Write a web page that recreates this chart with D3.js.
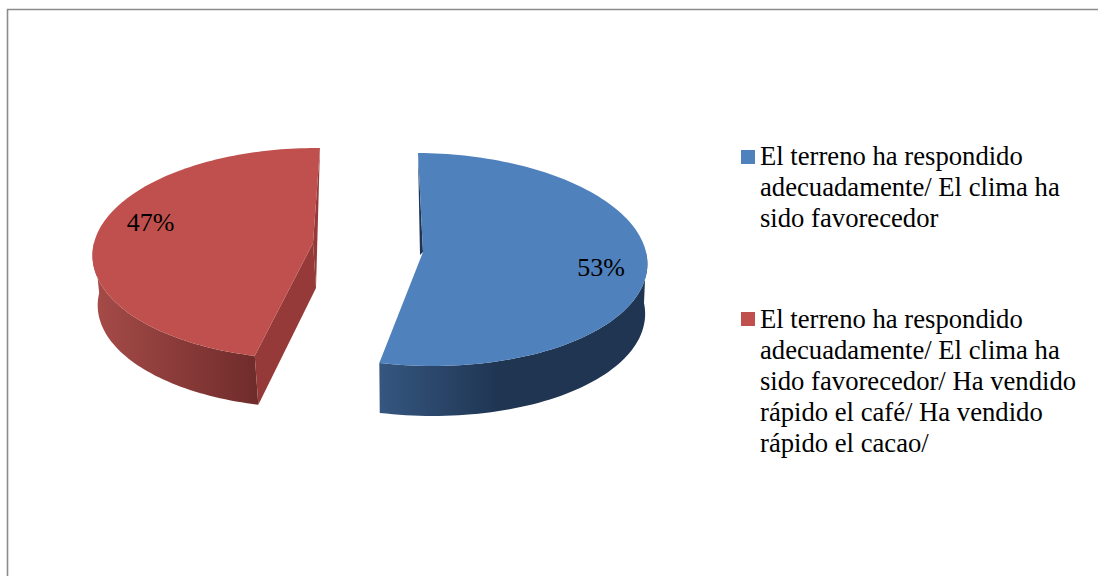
<!DOCTYPE html>
<html><head><meta charset="utf-8">
<script src="https://d3js.org/d3.v7.min.js"></script>
<style>html,body{margin:0;padding:0;background:#fff}svg{display:block}text{font-family:"Liberation Serif",serif;fill:#000}</style>
</head><body><svg id="c" width="1098" height="576"></svg>
<script>
const categories = [
  ["El terreno ha respondido","adecuadamente/ El clima ha","sido favorecedor"],
  ["El terreno ha respondido","adecuadamente/ El clima ha","sido favorecedor/ Ha vendido","rápido el café/ Ha vendido","rápido el cacao/"]
];
const values = [53.3, 46.7];
const colors = ["#4f81bd", "#c0504d"];
const rotation = 1 * Math.PI / 180;

// Perspective of each exploded slice
const views = [
  {ax:423, ay:252, rx:223, ry:106, p:.07, k:.0414, depth:50, sx:.99, sy:1, dx:0,
   cut:null, sliverColor:"#1f3552", wall:["#35567f","#1f3552"], wallX:[380,500], sliver:[420,255]},
  {ax:313, ay:243, rx:219, ry:104.5, p:.1, k:-.0176, depth:50, sx:.99, sy:.99, dx:3,
   cut:"#953a38", sliverColor:"#953a38", wall:["#a54b48","#6f2c2b"], wallX:[95,257], sliver:[316,288]}
];
const labelPos = [[601,276],[150.5,231]];
const legendBase = [165, 327.5], swatchTop = [150, 312];
const fontSize = 26.67, labelSize = 26;

const svg = d3.select("#c");
const defs = svg.append("defs");

// Frame
svg.append("path").attr("d","M7.5,576V9.5H1098").attr("fill","none").attr("stroke","#8c8c8c").attr("stroke-width",1.6);

const arcs = d3.pie().sort(null).startAngle(rotation).endAngle(rotation + 2*Math.PI)(values);
const line = d3.line();
const project = (v,a,bottom) => {
  const ux = Math.sin(a), uy = -Math.cos(a), w = 1 - v.p*uy;
  const fx = bottom ? v.sx : 1, fy = bottom ? v.sy : 1;
  return [v.ax + (bottom ? v.dx : 0) + fx*v.rx*(ux + v.k*uy)/w,
          v.ay + (bottom ? v.depth : 0) + fy*v.ry*uy/w];
};

arcs.forEach((d,i) => {
  const v = views[i];
  const ang = d3.scaleLinear().domain([0,120]).range([d.startAngle,d.endAngle]);
  const steps = d3.range(121).map(ang);
  const top = steps.map(a => project(v,a,false));
  const front = steps.filter(a => Math.cos(a) <= 0);
  const wallTop = front.map(a => project(v,a,false));
  const wallBot = front.map(a => project(v,a,true));
  const apex = [v.ax,v.ay];
  const g = svg.append("g");
  const gid = "w"+i;
  const grad = defs.append("linearGradient").attr("id",gid).attr("gradientUnits","userSpaceOnUse")
    .attr("x1",v.wallX[0]).attr("x2",v.wallX[1]).attr("y1",0).attr("y2",0);
  grad.append("stop").attr("offset",0).attr("stop-color",v.wall[0]);
  grad.append("stop").attr("offset",1).attr("stop-color",v.wall[1]);
  // rim wall (front part only)
  g.append("path").attr("d",line(wallTop.concat(wallBot.slice().reverse()))+"Z").attr("fill",`url(#${gid})`);
  // cut face towards the viewer
  if (v.cut) {
    g.append("path").attr("d",line([apex,top[0],project(v,d.startAngle,true),v.sliver])+"Z").attr("fill",v.cut);
  }
  // back radial edge
  const backIdx = i===0 ? 0 : 120;
  g.append("path").attr("d",line([top[backIdx],apex,v.sliver])+"Z").attr("fill",v.sliverColor);
  // top face
  g.append("path").attr("d",line([apex].concat(top))+"Z").attr("fill",colors[i]);
  // label
  g.append("text").attr("x",labelPos[i][0]).attr("y",labelPos[i][1]).attr("text-anchor","middle")
    .attr("font-size",labelSize).text(d3.format(".0%")(values[i]/d3.sum(values)));
});

// Legend
categories.forEach((lines,i) => {
  svg.append("rect").attr("x",741).attr("y",swatchTop[i]).attr("width",14).attr("height",14).attr("fill",colors[i]);
  lines.forEach((t,j) => svg.append("text").attr("x",760).attr("y",legendBase[i]+j*31).attr("font-size",fontSize).text(t));
});
</script></body></html>
